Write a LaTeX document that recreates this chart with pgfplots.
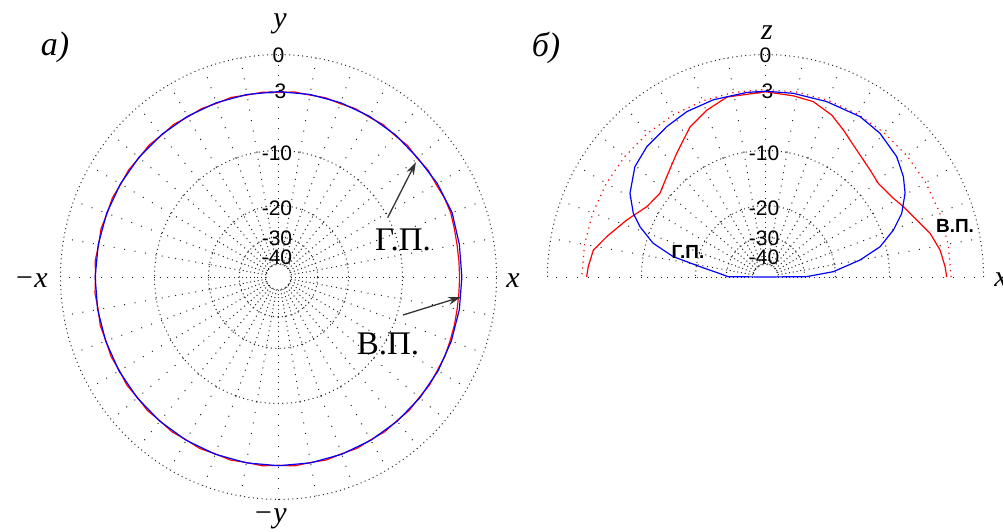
\documentclass[border=0pt]{standalone}
\usepackage{pgfplots}
\pgfplotsset{compat=1.18}
\usetikzlibrary{arrows.meta}
\usepackage{fontspec}
\setmainfont{Liberation Serif}
\newfontfamily\lblsans{Liberation Sans}

% radius (pt) of a level given in dB on the compressed radial scale
\newcommand\rdb[1]{(220.7*exp(0.0555*(#1))-2.7)}
\newcommand\px{\rdb{\thisrow{db}}*cos(\thisrow{ang})}
\newcommand\py{\rdb{\thisrow{db}}*sin(\thisrow{ang})}

\pgfplotsset{
  patt/.style={x=1pt, y=1.02pt, axis lines=none, ticks=none, clip=false,
    xmin=-230, xmax=230, ymin=-230, ymax=230, anchor=origin},
}

\tikzset{
  gridc/.style={black!85, line width=1pt},
  ring/.style={gridc, dash pattern=on 1pt off 3.4pt},
  spA/.style={gridc, dash pattern=on 1pt off 2.8pt},
  spB/.style={gridc, dash pattern=on 1pt off 3.8pt},
  spC/.style={gridc, dash pattern=on 1pt off 5.8pt},
  spD/.style={gridc, dash pattern=on 1pt off 9.6pt},
  tick/.style={font=\lblsans\fontsize{21}{22}\selectfont, inner sep=0pt},
  lbl/.style={font=\fontsize{30}{32}\selectfont\itshape, inner sep=0pt},
  note/.style={font=\fontsize{33}{35}\selectfont, inner sep=0pt},
  bnote/.style={font=\lblsans\bfseries\fontsize{19}{20}\selectfont, inner sep=0pt},
  pointer/.style={black!80, line width=1.3pt, -{Stealth[length=13pt,width=8pt]}},
}

\begin{document}
\begin{tikzpicture}[x=1pt, y=1pt]
\useasboundingbox (0,0) rectangle (1003,-532);

% ---------- grid, full circle ----------
\begin{scope}[shift={(278.5,-277)}, yscale=1.02]
  \foreach \r in {218,124,70,39.06,12.5}
    \draw[ring] (0,0) circle[radius=\r];
  \foreach \a in {0,10,...,350}{
    \draw[spA] (\a:12.5) -- (\a:39.06);
    \draw[spB] (\a:39.06) -- (\a:70);
    \draw[spC] (\a:70) -- (\a:124);
    \draw[spD] (\a:124) -- (\a:218);
  }
\end{scope}

% ---------- grid, upper half ----------
\begin{scope}[shift={(765.5,-277)}, yscale=1.02]
  \foreach \r in {218,124,70,39.06,12.5}
    \draw[ring] (\r,0) arc[start angle=0, end angle=180, radius=\r];
  \foreach \a in {0,10,...,180}{
    \draw[spA] (\a:12.5) -- (\a:39.06);
    \draw[spB] (\a:39.06) -- (\a:70);
    \draw[spC] (\a:70) -- (\a:124);
    \draw[spD] (\a:124) -- (\a:218);
  }
\end{scope}

% ---------- radial level labels ----------
\foreach \cx in {278.5,765.5}{
  \node[tick] at (\cx,-55) {0};
  \node[tick] at (\cx-1.5,-91.5) {-3};
  \node[tick] at (\cx-1.5,-153) {-10};
  \node[tick] at (\cx-1.5,-208) {-20};
  \node[tick] at (\cx-1.5,-238) {-30};
  \node[tick] at (\cx-1.5,-257.5) {-40};
}

% ---------- a) azimuthal plane ----------
\begin{axis}[patt, at={(278.5pt,-277pt)}]
\addplot[red, line width=1.2pt, line join=round] table[x expr=\px, y expr=\py] {
ang db
0 -3.30
5 -3.30
10 -3.28
15 -3.20
20 -3.08
25 -3.10
30 -3.22
35 -3.15
40 -3.30
45 -3.17
50 -3.30
55 -3.18
60 -3.30
65 -3.20
70 -3.33
75 -3.22
80 -3.30
85 -3.20
90 -3.32
95 -3.22
100 -3.30
105 -3.18
110 -3.30
115 -3.20
120 -3.28
125 -3.15
130 -3.25
135 -3.12
140 -3.22
145 -3.12
150 -3.20
155 -3.08
160 -3.18
165 -3.05
170 -3.15
175 -3.02
180 -3.12
185 -3.00
190 -3.10
195 -2.97
200 -3.06
205 -2.95
210 -3.05
215 -2.92
220 -3.02
225 -2.90
230 -3.00
235 -2.88
240 -2.98
245 -2.86
250 -2.97
255 -2.85
260 -2.96
265 -2.85
270 -2.96
275 -2.84
280 -2.96
285 -2.86
290 -2.98
295 -2.88
300 -2.99
305 -2.90
310 -3.02
315 -2.93
320 -3.05
325 -2.97
330 -3.08
335 -3.05
340 -3.15
345 -3.20
350 -3.27
355 -3.30
360 -3.30
};
\addplot[blue, line width=1.2pt, line join=round] table[x expr=\px, y expr=\py] {
ang db
0 -3.08
10 -3.05
20 -2.95
30 -3.08
40 -3.25
50 -3.22
60 -3.22
70 -3.23
80 -3.24
90 -3.24
100 -3.24
110 -3.23
120 -3.22
130 -3.20
140 -3.18
150 -3.16
160 -3.13
170 -3.11
180 -3.08
190 -3.05
200 -3.03
210 -3.00
220 -2.98
230 -2.96
240 -2.94
250 -2.93
260 -2.92
270 -2.92
280 -2.92
290 -2.93
300 -2.94
310 -2.96
320 -2.98
330 -3.00
340 -3.03
350 -3.05
360 -3.08
};
\end{axis}

% ---------- b) elevation plane ----------
\begin{axis}[patt, at={(765.5pt,-277pt)}]
\addplot[red, line width=1.2pt, dash pattern=on 1.2pt off 4.6pt] table[x expr=\px, y expr=\py] {
ang db
0 -2.87
10 -2.88
20 -2.90
30 -2.92
40 -2.94
50 -2.96
60 -2.98
70 -3.00
80 -3.02
90 -3.03
100 -3.04
110 -3.04
120 -3.04
130 -3.04
140 -3.04
150 -3.04
160 -3.04
170 -3.04
180 -3.04
};
\addplot[red, line width=1.2pt, line join=round] table[x expr=\px, y expr=\py] {
ang db
0 -3.29
3.2 -3.42
8.6 -3.75
14.6 -4.42
20.3 -5.36
26.6 -6.16
31.1 -6.72
39.1 -7.19
45.1 -6.86
53.8 -6.14
61.6 -5.08
67.4 -4.21
74.5 -3.56
81.1 -3.43
90 -3.25
102.3 -3.35
109.7 -4.03
117.2 -4.92
126.2 -6.60
135.1 -7.93
142.1 -8.67
149.9 -8.20
158.1 -6.68
166 -5.10
171.3 -3.99
176.7 -3.65
180 -3.52
};
\addplot[blue, line width=1.2pt, line join=round] table[x expr=\px, y expr=\py] {
ang db
0 -79
0.5 -29.1
4.4 -20.5
10 -14.5
14.5 -10.83
19.8 -8.38
24.6 -6.66
30.5 -5.28
35.5 -4.49
42 -3.76
50.9 -3.26
59 -3.07
70.4 -3.16
81.2 -3.19
90 -3.20
95.9 -3.22
106.7 -3.27
115.9 -3.39
123.8 -3.66
132.9 -3.97
140.4 -4.47
148.8 -5.67
154.7 -7.09
158.6 -8.53
163.6 -11.0
167.8 -14.8
171.2 -20.95
176 -27.5
179.5 -30.7
180 -79
};
\end{axis}

% ---------- axis names and panel letters ----------
\node[lbl] at (280,-24) {y};
\node[lbl] at (270,-519) {−y};
\node[lbl] at (31,-281) {−x};
\node[lbl] at (513,-281) {x};
\node[lbl] at (767,-33) {z};
\node[lbl] at (1001,-280) {x};
\node[lbl, font=\fontsize{34}{36}\selectfont\itshape] at (55,-47) {а)};
\node[lbl, font=\fontsize{34}{36}\selectfont\itshape] at (546,-48) {б)};

% ---------- curve captions ----------
\node[note] at (403,-240) {Г.П.};
\node[note] at (388,-344) {В.П.};
\draw[pointer] (388,-217) -- (416,-162);
\draw[pointer] (403,-315) -- (461,-297);
\node[bnote] at (688,-252) {Г.П.};
\node[bnote] at (955,-226) {В.П.};

\end{tikzpicture}
\end{document}
